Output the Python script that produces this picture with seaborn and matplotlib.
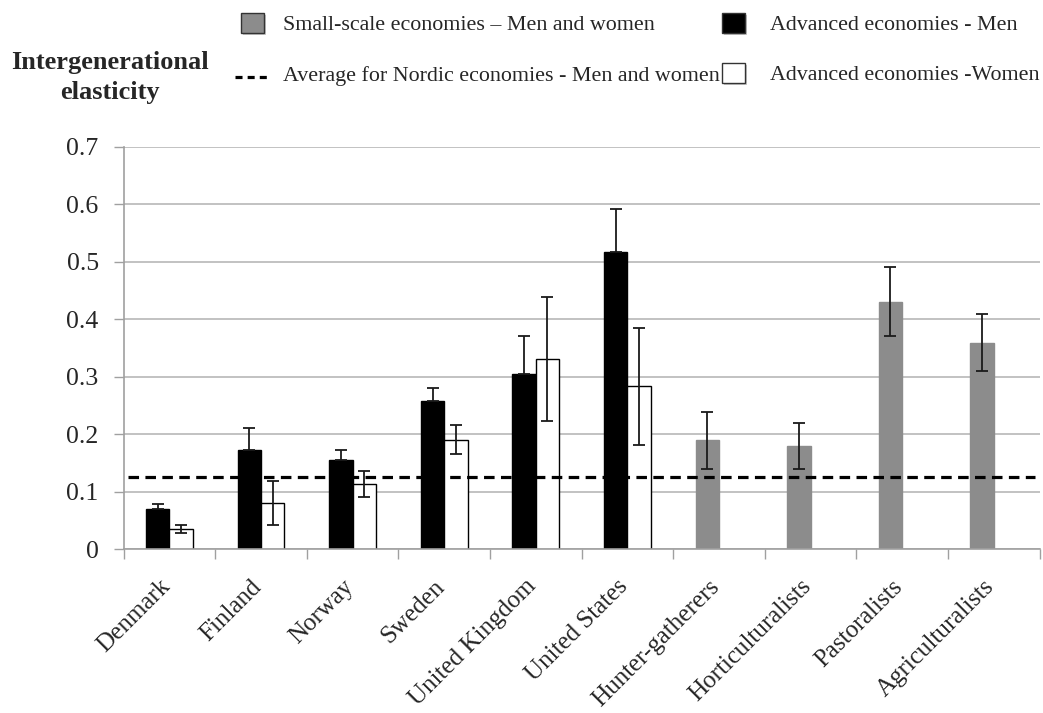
import numpy as np
import pandas as pd
import seaborn as sns
import matplotlib
matplotlib.use("Agg")
import matplotlib.pyplot as plt
import matplotlib.transforms as mtransforms
from matplotlib.patches import Rectangle
from matplotlib.lines import Line2D

# ---- data -------------------------------------------------------------
categories = ["Denmark", "Finland", "Norway", "Sweden", "United Kingdom",
              "United States", "Hunter-gatherers", "Horticulturalists",
              "Pastoralists", "Agriculturalists"]

advanced = ["Denmark", "Finland", "Norway", "Sweden", "United Kingdom", "United States"]
men_values = [0.070, 0.172, 0.154, 0.257, 0.305, 0.516]
men_errors = [0.008, 0.038, 0.018, 0.024, 0.065, 0.075]
women_values = [0.034, 0.080, 0.113, 0.190, 0.330, 0.283]
women_errors = [0.007, 0.038, 0.023, 0.025, 0.108, 0.102]

small_scale = ["Hunter-gatherers", "Horticulturalists", "Pastoralists", "Agriculturalists"]
small_values = [0.189, 0.179, 0.430, 0.359]
small_errors = [0.050, 0.040, 0.060, 0.050]

nordic_average = 0.125

yticks = [0, 0.1, 0.2, 0.3, 0.4, 0.5, 0.6, 0.7]
ytick_labels = ["0", "0.1", "0.2", "0.3", "0.4", "0.5", "0.6", "0.7"]

legend_labels = ["Small-scale economies \u2013 Men and women",
                 "Average for Nordic economies - Men and women",
                 "Advanced economies - Men",
                 "Advanced economies -Women"]

# ---- long table ---------------------------------------------------------
rows = []
for c, v, e in zip(advanced, men_values, men_errors):
    rows.append(dict(category=c, slot="left", series="men", value=v, err=e))
for c, v, e in zip(small_scale, small_values, small_errors):
    rows.append(dict(category=c, slot="left", series="small", value=v, err=e))
for c, v, e in zip(advanced, women_values, women_errors):
    rows.append(dict(category=c, slot="right", series="women", value=v, err=e))
df = pd.DataFrame(rows)

colors = {"men": "#000000", "women": "#ffffff", "small": "#8c8c8c"}
edges = {"men": "#000000", "women": "#000000", "small": "#8c8c8c"}

# ---- style ----------------------------------------------------------------
sns.set_theme(style="white")
serif = ["Liberation Serif", "DejaVu Serif"]
plt.rcParams["font.family"] = serif

W, H = 1043, 713
fig = plt.figure(figsize=(W / 100, H / 100), dpi=100)
ax = fig.add_axes([123.7 / W, 1 - 549 / H, (1039.5 - 123.7) / W, (549 - 146.7) / H])

sns.barplot(data=df, x="category", y="value", hue="slot",
            order=categories, hue_order=["left", "right"],
            dodge=True, width=0.51, errorbar=None, legend=False,
            palette={"left": "#000000", "right": "#ffffff"}, ax=ax, zorder=2)

# recolour each bar by its series and attach its error bar
lookup = {(r.category, r.slot): r for r in df.itertuples()}
for container, slot in zip(ax.containers, ["left", "right"]):
    for bar in container:
        xc = bar.get_x() + bar.get_width() / 2
        cat = categories[int(round(xc))]
        r = lookup.get((cat, slot))
        if r is None:
            continue
        bar.set_facecolor(colors[r.series])
        bar.set_edgecolor(edges[r.series])
        bar.set_linewidth(1.0)
        # the lower whisker disappears inside a solid black bar
        lower = 0.0 if r.series == "men" else r.err
        ax.errorbar(xc, r.value, yerr=[[lower], [r.err]], fmt="none",
                    ecolor="#1a1a1a", elinewidth=1.3, capsize=4.5,
                    capthick=1.3, zorder=4)

# Nordic reference line
ax.axhline(nordic_average, xmin=0.005, xmax=0.995, color="black",
           lw=2.3, dashes=(3.3, 2.0), zorder=3)

# ---- axes -----------------------------------------------------------------
ax.set_ylim(0, 0.7)
ax.set_xlim(-0.5, len(categories) - 0.5)
ax.set_yticks(yticks)
ax.set_yticklabels(ytick_labels, fontsize=18.5, family=serif)
ax.yaxis.grid(True, color="#bdbdbd", lw=1.3, zorder=0)
ax.xaxis.grid(False)
ax.set_axisbelow(True)

ax.set_xticks(range(len(categories)))
ax.set_xticks(np.arange(-0.5, len(categories) + 0.5, 1.0), minor=True)
ax.tick_params(axis="x", which="major", length=0, pad=19)
ax.tick_params(axis="x", which="minor", length=7, width=1.0, color="#a0a0a0",
               direction="out", bottom=True)
ax.tick_params(axis="y", length=7, width=1.0, color="#a0a0a0", direction="out",
               left=True, pad=11)
ax.set_xticklabels(categories, rotation=45, ha="right", va="top",
                   rotation_mode="default", fontsize=18, family=serif)
# nudge the slanted names a little to the right of their tick
shift = mtransforms.ScaledTranslation(5 / 100, 0, fig.dpi_scale_trans)
for lab in ax.get_xticklabels():
    lab.set_transform(lab.get_transform() + shift)
ax.set_xlabel("")
ax.set_ylabel("")

for side in ["top", "right"]:
    ax.spines[side].set_visible(False)
for side in ["left", "bottom"]:
    ax.spines[side].set_color("#a0a0a0")
    ax.spines[side].set_linewidth(1.2)

# ---- title ---------------------------------------------------------------
def fx(px):
    return px / W


def fy(py):
    return 1 - py / H


fig.text(fx(110), fy(63), "Intergenerational", ha="center", va="center",
         fontsize=19, fontweight="bold", family=serif)
fig.text(fx(110), fy(92), "elasticity", ha="center", va="center",
         fontsize=19, fontweight="bold", family=serif)

# ---- legend (two columns of key + label) --------------------------------------
def key_box(x0, y0, face):
    w, h = 23, 20
    shadow = Rectangle((fx(x0 + 1.5), fy(y0 + h + 2)), w / W, h / H,
                       transform=fig.transFigure, facecolor="#c8c8c8",
                       edgecolor="none", zorder=1)
    box = Rectangle((fx(x0), fy(y0 + h)), w / W, h / H,
                    transform=fig.transFigure, facecolor=face,
                    edgecolor="#333333", lw=1.0, zorder=2)
    fig.add_artist(shadow)
    fig.add_artist(box)


legend_font = dict(fontsize=15.8, family=serif, va="center", ha="left")

key_box(241, 13, colors["small"])
fig.text(fx(283), fy(26), legend_labels[0], **legend_font)

fig.add_artist(Line2D([fx(235), fx(268)], [fy(77), fy(77)],
                      transform=fig.transFigure, color="black", lw=2.3,
                      dashes=(2.2, 1.6)))
fig.text(fx(283), fy(76), legend_labels[1], **legend_font)

key_box(722, 13, colors["men"])
fig.text(fx(770), fy(26), legend_labels[2], **legend_font)

key_box(722, 63, colors["women"])
fig.text(fx(770), fy(76), legend_labels[3], **legend_font)

fig.savefig("out.png", dpi=100)
